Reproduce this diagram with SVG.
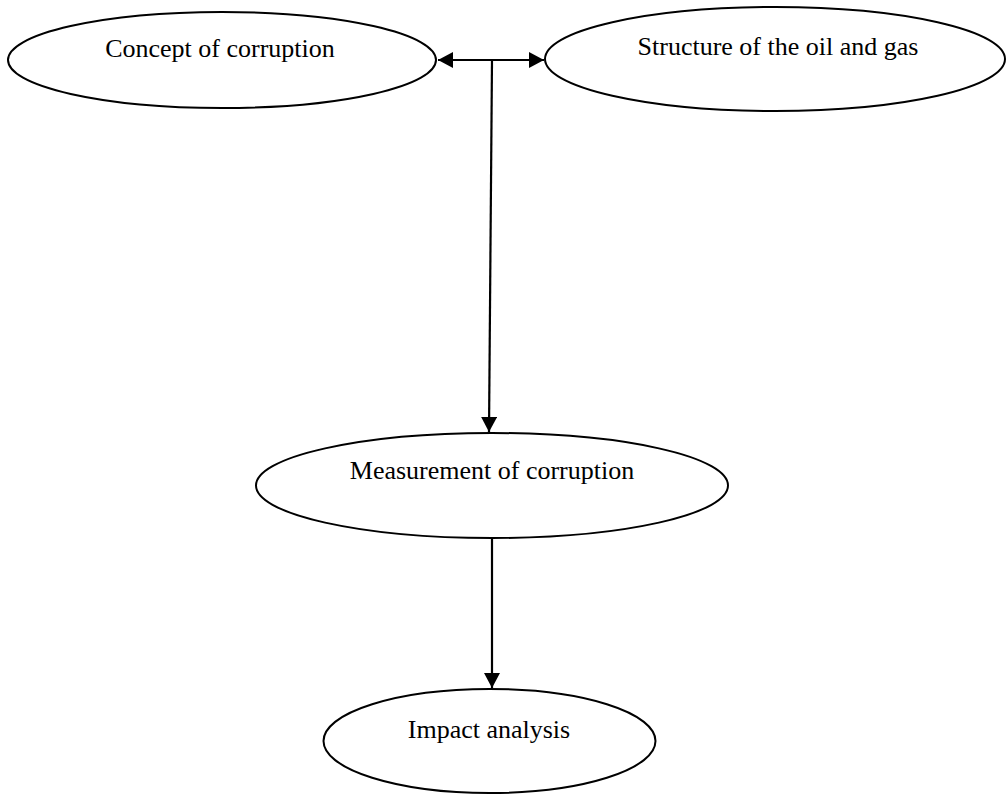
<svg xmlns="http://www.w3.org/2000/svg" width="1007" height="795" viewBox="0 0 1007 795">
<style>
.node ellipse{fill:#fff;stroke:#000;stroke-width:2}
.node text{font-family:"Liberation Serif","Times New Roman",serif;font-size:26px;fill:#000;text-anchor:middle}
.conn{stroke:#000;stroke-width:2.2;fill:none}
</style>
<defs>
<marker id="ah" markerUnits="userSpaceOnUse" markerWidth="16" markerHeight="16" refX="15" refY="8" orient="auto-start-reverse">
<path d="M0,0 L15,8 L0,16 Z" fill="#000"/>
</marker>
</defs>
<rect width="1007" height="795" fill="#fff"/>
<g id="connectors">
<line class="conn" x1="438" y1="60" x2="544" y2="60" marker-start="url(#ah)" marker-end="url(#ah)"/>
<line class="conn" x1="492" y1="60" x2="489" y2="432" marker-end="url(#ah)"/>
<line class="conn" x1="492" y1="538" x2="492" y2="688" marker-end="url(#ah)"/>
</g>
<g id="concept" class="node">
<ellipse cx="222" cy="60" rx="214" ry="48"/>
<text x="220" y="57">Concept of corruption</text>
</g>
<g id="structure" class="node">
<ellipse cx="775" cy="59" rx="230" ry="52"/>
<text x="778" y="55">Structure of the oil and gas</text>
</g>
<g id="measurement" class="node">
<ellipse cx="492" cy="485.5" rx="236" ry="52.5"/>
<text x="492" y="479">Measurement of corruption</text>
</g>
<g id="impact" class="node">
<ellipse cx="489.5" cy="741" rx="166" ry="52"/>
<text x="489" y="738">Impact analysis</text>
</g>
</svg>
